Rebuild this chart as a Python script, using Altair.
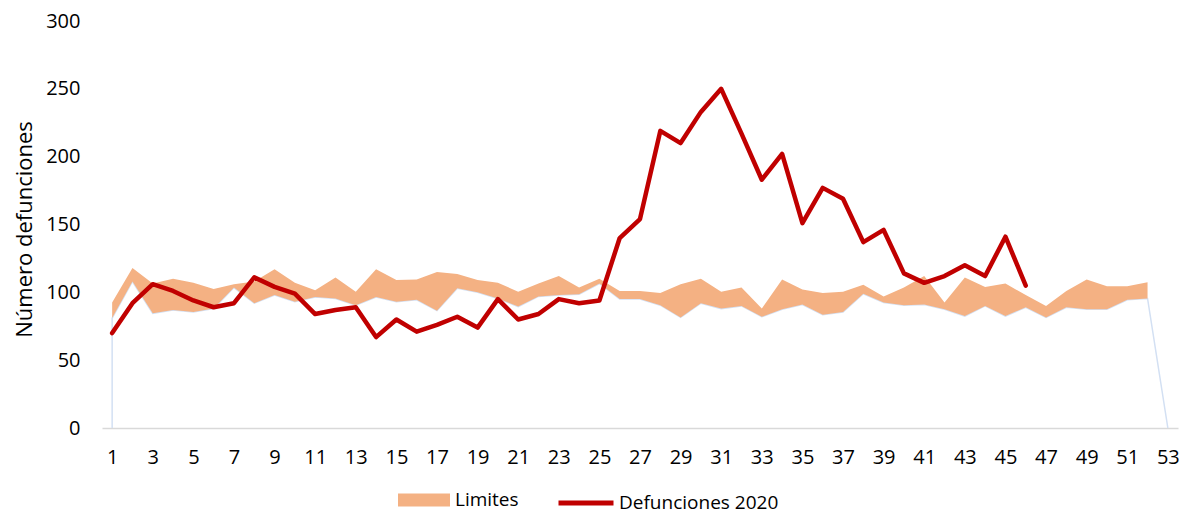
import altair as alt
import pandas as pd

weeks = list(range(1, 54))
tick_weeks = list(range(1, 54, 2))
y_ticks = [0, 50, 100, 150, 200, 250, 300]

lower = [81, 108, 84.5, 87, 85.5, 88, 103.5, 92, 98, 93,
         96.5, 95.5, 90.5, 96.5, 93, 94.5, 86.5, 103, 100, 95.5,
         89.5, 97, 98, 98.5, 106.5, 95, 95, 90.5, 81.5, 92,
         88, 90, 82, 87.5, 91, 83.5, 85.5, 99, 92.5, 90.5,
         91, 87.5, 82.5, 90, 82.5, 89, 81.5, 89, 87.5, 87.5,
         94.5, 95.5]
upper = [92.5, 118, 106.5, 110, 107, 102.5, 106, 108, 117, 107,
         101.5, 111, 100.5, 117, 109, 109.5, 115, 113.5, 109, 107,
         100.5, 106.5, 112, 103.5, 110, 101, 101, 99.5, 106, 110,
         100.5, 103.5, 88, 109.5, 102, 99.5, 100.5, 105.5, 97, 103.5,
         112, 92.5, 111, 104, 106.5, 98, 90, 101, 109.5, 104.5,
         104.5, 107.5]
deaths = [70, 92, 106, 101, 94, 89, 92, 111, 104, 99,
          84, 87, 89, 67, 80, 71, 76, 82, 74, 95,
          80, 84, 95, 92, 94, 140, 154, 219, 210, 233,
          250, 217, 183, 202, 151, 177, 169, 137, 146, 114,
          107, 112, 120, 112, 141, 105]

band_df = pd.DataFrame({"semana": weeks[:52], "inferior": lower,
                        "superior": upper, "serie": "Limites"})
outline_df = pd.DataFrame({"semana": [1] + weeks[:52] + [53],
                           "valor": [0] + lower + [0],
                           "orden": list(range(54))})
death_df = pd.DataFrame({"semana": weeks[:46], "defunciones": deaths,
                         "serie": "Defunciones 2020"})

FONT = "Open Sans"
W, H = 1076, 407

x_axis = alt.Axis(values=tick_weeks, title=None, grid=False, ticks=False,
                  domainColor="#D9D9D9", domainWidth=1.5, labelFontSize=20,
                  labelColor="#000000", labelPadding=19, labelFont=FONT,
                  format="d", labelFlush=False)
x_scale = alt.Scale(domain=[0.5, 53.5], nice=False, zero=False)
y_scale = alt.Scale(domain=[0, 300], nice=False)
y_axis = alt.Axis(values=y_ticks, title="Número defunciones", grid=False,
                  ticks=False, domain=False, labelFontSize=20,
                  labelColor="#000000", labelFont=FONT, labelPadding=22,
                  titleFont=FONT, titleFontSize=22, titleFontWeight="normal",
                  titleColor="#000000", titleX=-78, titleY=208,
                  titleAngle=-90, titleAlign="center", titleBaseline="middle")

outline = alt.Chart(outline_df).mark_line(
    color="#D3E0F3", strokeWidth=1.5
).encode(
    x=alt.X("semana:Q", scale=x_scale, axis=x_axis),
    y=alt.Y("valor:Q", scale=y_scale, axis=y_axis),
    order=alt.Order("orden:Q"),
)

band = alt.Chart(band_df).mark_area(opacity=1).encode(
    x=alt.X("semana:Q", scale=x_scale, axis=x_axis),
    y=alt.Y("inferior:Q", scale=y_scale, axis=y_axis),
    y2="superior:Q",
    fill=alt.Fill("serie:N",
                  scale=alt.Scale(domain=["Limites"], range=["#F4B183"]),
                  legend=alt.Legend(title=None, orient="none",
                                    legendX=296, legendY=453,
                                    symbolType="M-1,-0.25H1V0.25H-1Z",
                                    symbolSize=2704, symbolOpacity=1,
                                    symbolStrokeWidth=0,
                                    labelFontSize=19, labelFont=FONT,
                                    labelColor="#000000", labelOffset=5,
                                    labelLimit=0, padding=0)),
)

line = alt.Chart(death_df).mark_line(
    strokeWidth=4.5, strokeJoin="round", strokeCap="round"
).encode(
    x=alt.X("semana:Q", scale=x_scale, axis=x_axis),
    y=alt.Y("defunciones:Q", scale=y_scale, axis=y_axis),
    stroke=alt.Stroke("serie:N",
                      scale=alt.Scale(domain=["Defunciones 2020"],
                                      range=["#C00000"]),
                      legend=alt.Legend(title=None, orient="none",
                                        legendX=454, legendY=452,
                                        symbolType="stroke",
                                        symbolSize=3025,
                                        symbolStrokeWidth=5,
                                        labelFontSize=19, labelFont=FONT,
                                        labelColor="#000000", labelOffset=3,
                                        labelLimit=0, padding=0)),
)

chart = alt.layer(outline, band, line).resolve_scale(
    fill="independent", stroke="independent"
).properties(
    width=W, height=H,
    autosize=alt.AutoSizeParams(type="none"),
    padding={"left": 94, "top": 13, "right": 2, "bottom": 86},
    background="white",
).configure_view(stroke=None)

chart.save("out.html", embed_options={"renderer": "svg", "actions": False})
